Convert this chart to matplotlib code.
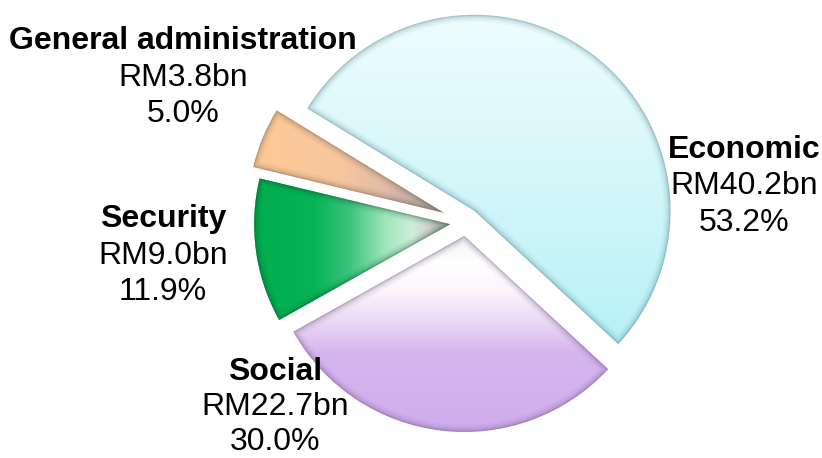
import numpy as np
import matplotlib
matplotlib.use("Agg")
import matplotlib.pyplot as plt
from matplotlib.colors import to_rgb
from matplotlib.patches import Wedge

# ---- data ----
categories = ["Economic", "Social", "Security", "General administration"]
amounts_bn = [40.2, 22.7, 9.0, 3.8]
shares_pct = [53.2, 30.0, 11.9, 5.0]

# ---- style ----
explode_px = [14, 14, 16, 24]
edge_cols = ["#4a7c86", "#6a5080", "#0a4a2a", "#6e5a4c"]
label_pos = {  # (x center, baseline of first line) in image pixels (y down)
    "Economic": (744, 158),
    "Social": (275, 380),
    "Security": (163, 227),
    "General administration": (183, 49),
}
line_gaps = {"Economic": 36.5, "Social": 35.0, "Security": 36.5,
             "General administration": 36.5}

W, H = 822, 458
fig = plt.figure(figsize=(W / 100, H / 100), dpi=100)
ax = fig.add_axes([0, 0, 1, 1])
cx, cy, R = 466, H - 222, 196

wedges, _ = ax.pie(shares_pct, startangle=148.5, counterclock=False,
                   center=(cx, cy), radius=R, explode=explode_px, frame=True,
                   colors=["none"] * 4, wedgeprops=dict(linewidth=0))
ax.set_xlim(0, W)
ax.set_ylim(0, H)
ax.set_aspect("equal")
ax.axis("off")

xs = np.arange(W) + 0.5
ys_img = H - (np.arange(H) + 0.5)
X, Yimg = np.meshgrid(xs, ys_img)


def interp_stops(v, stops):
    pos = np.array([s[0] for s in stops], float)
    cols = np.array([to_rgb(s[1]) for s in stops])
    out = np.empty(v.shape + (3,))
    for k in range(3):
        out[..., k] = np.interp(v, pos, cols[:, k])
    return out


grads = []
# Economic: vertical light cyan
grads.append(interp_stops(Yimg, [(15, "#eefdfe"), (120, "#def9fb"), (300, "#bff3f8"), (400, "#aaeef6")]))
# Social: white at top to lavender
grads.append(interp_stops(Yimg, [(240, "#f4f4f4"), (262, "#ffffff"), (290, "#fbf6fd"), (322, "#ead8f6"), (352, "#d6b6ef"), (430, "#d0acec")]))
# Security: horizontal green to pale
grads.append(interp_stops(X, [(258, "#00ae4e"), (315, "#06b457"), (350, "#3cc47c"), (385, "#9ee6bc"), (412, "#cdeedb"), (430, "#cfd2cc"), (452, "#9a9a9a")]))
# General administration: peach to gray
grads.append(interp_stops(X, [(265, "#fdca96"), (340, "#f7c69e"), (385, "#e2bca8"), (415, "#c0b0a6"), (445, "#8e8e8e")]))

for w, img, ec in zip(wedges, grads, edge_cols):
    im = ax.imshow(img, extent=(0, W, 0, H), origin="lower", zorder=1,
                   interpolation="bilinear")
    im.set_clip_path(w)
    # inner bevel shading
    for lw, a in [(10, 0.05), (7, 0.07), (4.5, 0.10), (2.5, 0.14), (1.2, 0.2)]:
        p = Wedge(w.center, w.r, w.theta1, w.theta2, facecolor="none",
                  edgecolor=ec, linewidth=lw, alpha=a, zorder=2,
                  joinstyle="miter")
        ax.add_patch(p)
        p.set_clip_path(w)

for cat, amt, pct in zip(categories, amounts_bn, shares_pct):
    x0, yb = label_pos[cat]
    gap = line_gaps[cat]
    lines = [(cat, "bold"), (f"RM{amt:.1f}bn", "normal"), (f"{pct:.1f}%", "normal")]
    for i, (txt, wt) in enumerate(lines):
        ax.text(x0, H - (yb + i * gap), txt, ha="center", va="baseline",
                fontsize=23, fontweight=wt, family="Liberation Sans",
                color="black", zorder=3)

fig.savefig("out.png", dpi=100)
